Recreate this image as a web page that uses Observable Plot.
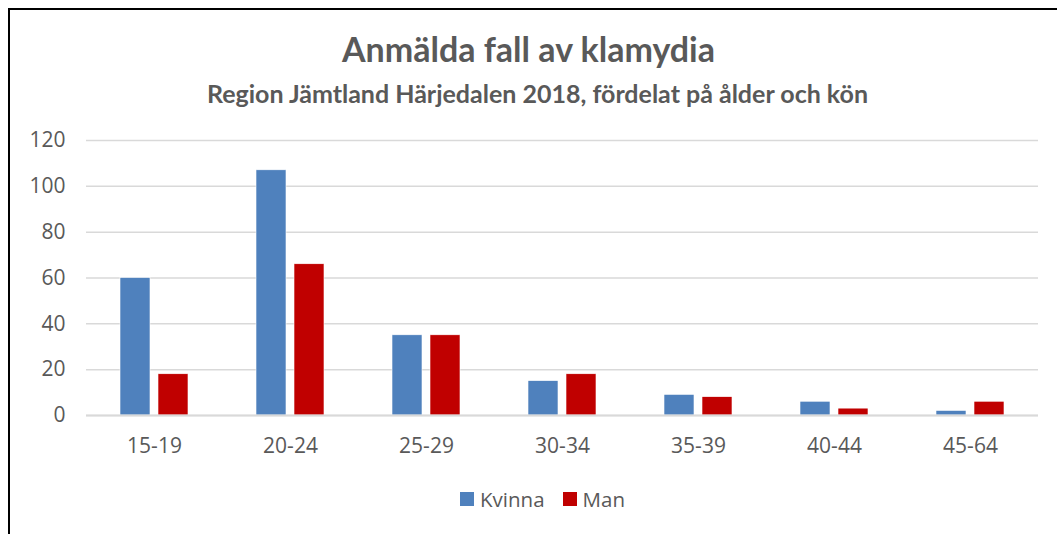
<!DOCTYPE html>
<html><head><meta charset="utf-8">
<script src="https://cdn.jsdelivr.net/npm/d3@7"></script>
<script src="https://cdn.jsdelivr.net/npm/@observablehq/plot@0.6"></script>
<style>
html,body{margin:0;padding:0;background:#fff;width:1057px;height:534px;overflow:hidden;position:relative;font-family:"Open Sans",sans-serif;}
#frame{position:absolute;left:8px;top:8px;width:1200px;height:700px;border-left:2px solid #000;border-top:2px solid #000;}
#title{position:absolute;left:0;width:1057px;top:28px;text-align:center;font-family:Lato,sans-serif;font-weight:700;font-size:34px;color:#595959;}
#subtitle{position:absolute;left:9px;width:1057px;top:78px;text-align:center;font-family:Lato,sans-serif;font-weight:700;font-size:25px;color:#595959;}
#chart{position:absolute;left:0;top:120px;}
#legend{position:absolute;left:14px;width:1057px;top:484px;text-align:center;font-size:20.5px;color:#595959;}
#legend span.item{display:inline-flex;align-items:center;margin:0 9px;}
#legend span.sw{display:inline-block;width:14px;height:14px;margin-right:6px;}
</style></head><body>
<div id="frame"></div>
<div id="title">Anmälda fall av klamydia</div>
<div id="subtitle">Region Jämtland Härjedalen 2018, fördelat på ålder och kön</div>
<div id="chart"></div>
<div id="legend"></div>
<script>
const ages = ["15-19","20-24","25-29","30-34","35-39","40-44","45-64"];
const series = ["Kvinna","Man"];
const kvinna = [60,107,35,15,9,6,2];
const man = [18,66,35,18,8,3,6];
const colors = ["#4F81BD","#C00000"];
const yTicks = [0,20,40,60,80,100,120];

const data = [];
ages.forEach((a,i)=>{
  data.push({age:a, sex:"Kvinna", value:kvinna[i]});
  data.push({age:a, sex:"Man", value:man[i]});
});

const chart = Plot.plot({
  width:1057, height:340,
  marginLeft:85, marginRight:19, marginTop:20, marginBottom:45,
  style:{fontFamily:"Open Sans, sans-serif", fontSize:"21px", color:"#595959", background:"transparent", overflow:"visible"},
  fx:{domain:ages, padding:0, label:null, axis:"bottom", tickSize:0, tickPadding:23},
  x:{domain:series, paddingInner:0.2, paddingOuter:0.85, axis:null},
  y:{domain:[0,120], ticks:yTicks, label:null, tickSize:0, tickPadding:21},
  color:{domain:series, range:colors},
  marks:[
    Plot.ruleY(yTicks, {stroke:"#d9d9d9", strokeWidth:1.5}),
    Plot.barY(data, {fx:"age", x:"sex", y:"value", fill:"sex", stroke:"#fff", strokeWidth:0.6, insetLeft:0, insetRight:0}),
    Plot.ruleY([0], {stroke:"#d9d9d9", strokeWidth:2})
  ]
});
document.getElementById("chart").appendChild(chart);

const lg = document.getElementById("legend");
series.forEach((s,i)=>{
  const it = document.createElement("span"); it.className="item";
  const sw = document.createElement("span"); sw.className="sw"; sw.style.background=colors[i];
  it.appendChild(sw); it.appendChild(document.createTextNode(s));
  lg.appendChild(it);
});
</script>
</body></html>
